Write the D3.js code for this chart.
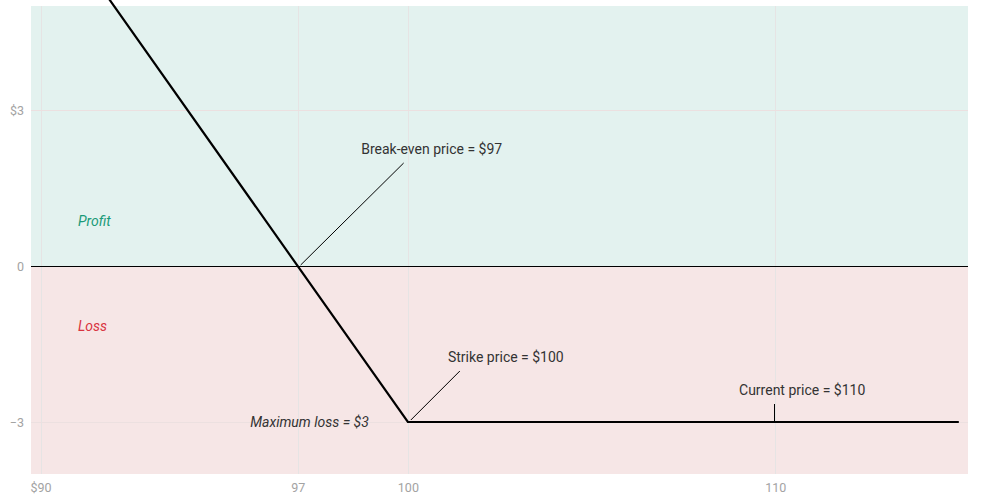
<!DOCTYPE html>
<html><head><meta charset="utf-8">
<script src="https://cdn.jsdelivr.net/npm/d3@7"></script>
<style>
body{margin:0;background:#fff;}
text{font-family:Roboto, "Noto Sans", sans-serif;}
</style></head>
<body>
<svg id="chart" width="983" height="497"></svg>
<script>
// Data
const xTicks = [90, 97, 100, 110];
const xTickLabels = ["$90", "97", "100", "110"];
const yTicks = [3, 0, -3];
const yTickLabels = ["$3", "0", "\u22123"];
const payoffX = [91.7, 100, 115];
const payoffY = [5.3, -3, -3];
const annotations = [
  {text: "Break-even price = $97", x: 97, y: 0},
  {text: "Strike price = $100", x: 100, y: -3},
  {text: "Current price = $110", x: 110, y: -3}
];

const svg = d3.select("#chart");
const L = 31, R = 968, T = 6, B = 474;
const x = d3.scaleLinear().domain([89.74, 115.25]).range([L, R]);
const y = d3.scaleLinear().domain([-4, 5]).range([B, T]);
const px = v => Math.round(v) + 0.5;

// bands
svg.append("rect").attr("x", L).attr("y", y(5)).attr("width", R - L).attr("height", y(0) - y(5)).attr("fill", "#e3f2ef");
svg.append("rect").attr("x", L).attr("y", y(0)).attr("width", R - L).attr("height", y(-4) - y(0)).attr("fill", "#f6e6e6");

// gridlines
svg.append("g").selectAll("line").data(xTicks).join("line")
  .attr("x1", d => px(x(d))).attr("x2", d => px(x(d))).attr("y1", T).attr("y2", B)
  .attr("stroke", "#e6e4e4").attr("stroke-width", 1);
svg.append("g").selectAll("line").data(yTicks.filter(d => d !== 0)).join("line")
  .attr("x1", L).attr("x2", R).attr("y1", d => px(y(d))).attr("y2", d => px(y(d)))
  .attr("stroke", "#ece0e0").attr("stroke-width", 1);

// axes labels
const xAxis = d3.axisBottom(x).tickValues(xTicks).tickFormat((d, i) => xTickLabels[i]).tickSize(0).tickPadding(9);
const gx = svg.append("g").attr("transform", `translate(0,${B})`).call(xAxis);
gx.select(".domain").remove();
gx.selectAll("text").attr("fill", "#a3a3a3").attr("font-size", 12.5).attr("font-family", "Roboto");

const yAxis = d3.axisLeft(y).tickValues(yTicks).tickFormat((d, i) => yTickLabels[i]).tickSize(0).tickPadding(7);
const gy = svg.append("g").attr("transform", `translate(${L},0)`).call(yAxis);
gy.select(".domain").remove();
gy.selectAll("text").attr("fill", "#a3a3a3").attr("font-size", 12.5).attr("font-family", "Roboto");

// zero line
svg.append("line").attr("x1", L).attr("x2", R).attr("y1", px(y(0))).attr("y2", px(y(0))).attr("stroke", "#000").attr("stroke-width", 1);

// Profit / Loss
svg.append("text").attr("x", 78).attr("y", 226).text("Profit").attr("font-style", "italic").attr("font-size", 14).attr("fill", "#1a9a78");
svg.append("text").attr("x", 78).attr("y", 331).text("Loss").attr("font-style", "italic").attr("font-size", 14).attr("fill", "#d9333f");

// payoff line
const pts = payoffX.map((d, i) => [d, payoffY[i]]);
svg.append("path").datum(pts)
  .attr("d", d3.line().x(d => x(d[0])).y(d => y(d[1])))
  .attr("fill", "none").attr("stroke", "#000").attr("stroke-width", 2.2).attr("stroke-linejoin", "miter");

// annotations
const a0 = annotations[0];
svg.append("line").attr("x1", x(a0.x) + 3).attr("y1", y(a0.y) - 1).attr("x2", x(a0.x) + 106).attr("y2", y(a0.y) - 103).attr("stroke", "#000").attr("stroke-width", 1);
svg.append("text").attr("x", x(a0.x) + 134).attr("y", y(a0.y) - 112).attr("text-anchor", "middle").attr("font-size", 14).attr("fill", "#333").text(a0.text);

const a1 = annotations[1];
svg.append("line").attr("x1", x(a1.x) + 3).attr("y1", y(a1.y) - 2).attr("x2", x(a1.x) + 52).attr("y2", y(a1.y) - 51).attr("stroke", "#000").attr("stroke-width", 1);
svg.append("text").attr("x", x(a1.x) + 98).attr("y", y(a1.y) - 60).attr("text-anchor", "middle").attr("font-size", 14).attr("fill", "#333").text(a1.text);

const a2 = annotations[2];
svg.append("line").attr("x1", px(x(a2.x)) - 1).attr("y1", y(a2.y) - 1).attr("x2", px(x(a2.x)) - 1).attr("y2", y(a2.y) - 18).attr("stroke", "#000").attr("stroke-width", 1);
svg.append("text").attr("x", x(a2.x) + 27).attr("y", y(a2.y) - 27).attr("text-anchor", "middle").attr("font-size", 14).attr("fill", "#333").text(a2.text);

svg.append("text").attr("x", x(100) - 39).attr("y", y(-3) + 5).attr("text-anchor", "end").attr("font-size", 14).attr("font-style", "italic").attr("fill", "#333").text("Maximum loss = $3");
</script>
</body></html>
